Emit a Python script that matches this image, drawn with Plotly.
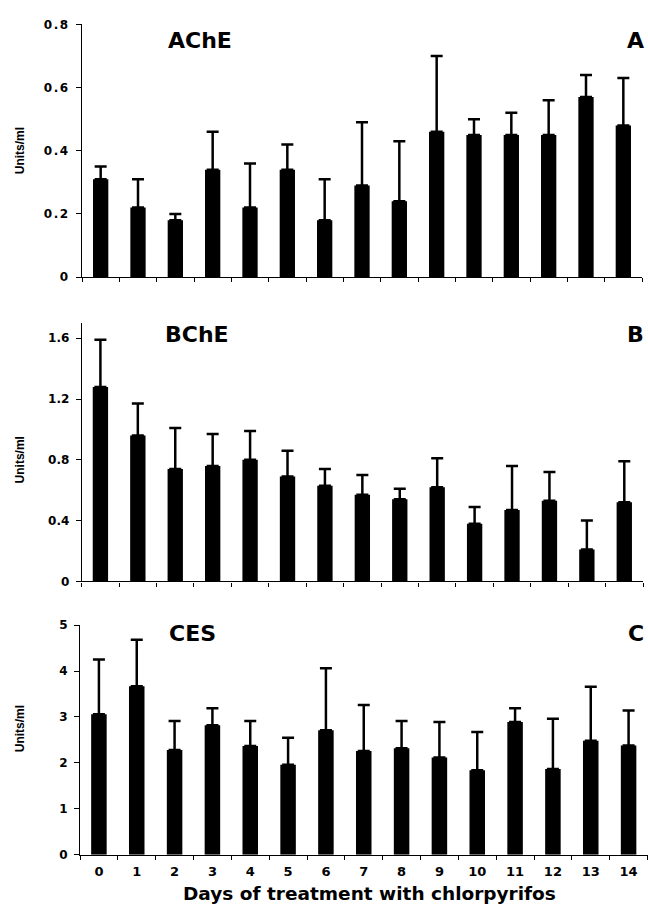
import plotly.graph_objects as go

days = [str(d) for d in range(15)]

ache_mean = [0.31, 0.22, 0.18, 0.34, 0.22, 0.34, 0.18, 0.29, 0.24, 0.46, 0.45, 0.45, 0.45, 0.57, 0.48]
ache_top = [0.35, 0.31, 0.20, 0.46, 0.36, 0.42, 0.31, 0.49, 0.43, 0.70, 0.50, 0.52, 0.56, 0.64, 0.63]

bche_mean = [1.28, 0.96, 0.74, 0.76, 0.80, 0.69, 0.63, 0.57, 0.54, 0.62, 0.38, 0.47, 0.53, 0.21, 0.52]
bche_top = [1.59, 1.17, 1.01, 0.97, 0.99, 0.86, 0.74, 0.70, 0.61, 0.81, 0.49, 0.76, 0.72, 0.40, 0.79]

ces_mean = [3.06, 3.67, 2.28, 2.82, 2.37, 1.96, 2.71, 2.26, 2.32, 2.12, 1.84, 2.89, 1.87, 2.48, 2.38]
ces_top = [4.25, 4.68, 2.91, 3.19, 2.91, 2.55, 4.06, 3.26, 2.91, 2.89, 2.67, 3.19, 2.96, 3.66, 3.14]

panel_names = ["AChE", "BChE", "CES"]
panel_letters = ["A", "B", "C"]
x_title = "Days of treatment with chlorpyrifos"
y_title = "Units/ml"

W, H = 648, 913


def py(p):
    return 1 - p / H


def px(p):
    return p / W


panels = [
    dict(mean=ache_mean, top=ache_top, rng=[0, 0.8], dtick=0.2,
         xdom=[px(82), px(642)], ydom=[py(274.3), py(17.7)],
         name_x=166, name_y=34.5, ytitle_y=146),
    dict(mean=bche_mean, top=bche_top, rng=[0, 1.7], dtick=0.4,
         xdom=[px(81.7), px(643)], ydom=[py(583.3), py(321)],
         name_x=163, name_y=333, ytitle_y=460),
    dict(mean=ces_mean, top=ces_top, rng=[0, 5], dtick=1,
         xdom=[px(80), px(647.5)], ydom=[py(861), py(627.7)],
         name_x=167, name_y=636, ytitle_y=733),
]

fig = go.Figure()
tickfont = dict(family="DejaVu Sans", size=12, color="black", weight="bold")
annotations = []

for i, p in enumerate(panels):
    n = "" if i == 0 else str(i + 1)
    err = [t - m for t, m in zip(p["top"], p["mean"])]
    fig.add_trace(go.Bar(
        x=days, y=p["mean"], xaxis="x" + n, yaxis="y" + n,
        marker=dict(color="black", line=dict(width=0)),
        error_y=dict(type="data", array=err, symmetric=False,
                     arrayminus=[0] * len(err), color="black",
                     thickness=2.5, width=6),
        showlegend=False,
    ))
    last = i == 2
    fig.layout["xaxis" + n] = dict(
        domain=p["xdom"], anchor="y" + n, type="category",
        range=[-0.5, 14.5], tickson="boundaries", ticks="outside",
        ticklen=4, tickwidth=1, tickcolor="black",
        showline=True, linecolor="black", linewidth=1.3,
        showgrid=False, zeroline=False,
        showticklabels=last,
        tickfont=dict(family="DejaVu Sans", size=13, color="black", weight="bold"),
        ticklabelstandoff=4,
    )
    fig.layout["yaxis" + n] = dict(
        domain=p["ydom"], anchor="x" + n, range=p["rng"], dtick=p["dtick"],
        tick0=0, ticks="outside", ticklen=5, tickwidth=1, tickcolor="black",
        showline=True, linecolor="black", linewidth=1,
        showgrid=False, zeroline=False, tickfont=tickfont,
        ticklabelstandoff=4,
    )
    annotations.append(dict(
        x=px(p["name_x"]), y=py(p["name_y"]), xref="paper", yref="paper",
        xanchor="left", yanchor="middle", showarrow=False,
        text=panel_names[i],
        font=dict(family="DejaVu Sans", size=22, color="black", weight="bold"),
    ))
    annotations.append(dict(
        x=px(646), y=py(p["name_y"]), xref="paper", yref="paper",
        xanchor="right", yanchor="middle", showarrow=False,
        text=panel_letters[i],
        font=dict(family="DejaVu Sans", size=22, color="black", weight="bold"),
    ))
    annotations.append(dict(
        x=px(19.5), y=py(p["ytitle_y"]), xref="paper", yref="paper",
        xanchor="center", yanchor="middle", showarrow=False, textangle=-90,
        text=y_title,
        font=dict(family="Liberation Sans", size=12, color="black", weight="bold"),
    ))

annotations.append(dict(
    x=px(369), y=py(900), xref="paper", yref="paper",
    xanchor="center", yanchor="middle", showarrow=False,
    text=x_title,
    font=dict(family="DejaVu Sans", size=18.5, color="black", weight="bold"),
))

fig.update_layout(
    width=W, height=H,
    margin=dict(l=0, r=0, t=0, b=0),
    paper_bgcolor="white", plot_bgcolor="white",
    bargap=0.59,
    annotations=annotations,
)

post = (
    "document.body.style.margin='0';"
    "document.body.style.overflow='hidden';"
    "var st=document.createElement('style');"
    "st.textContent='.xtick text,.ytick text{letter-spacing:1.5px}';"
    "document.head.appendChild(st);"
)

fig.write_html("out.html", post_script=post, config={"displayModeBar": False})
